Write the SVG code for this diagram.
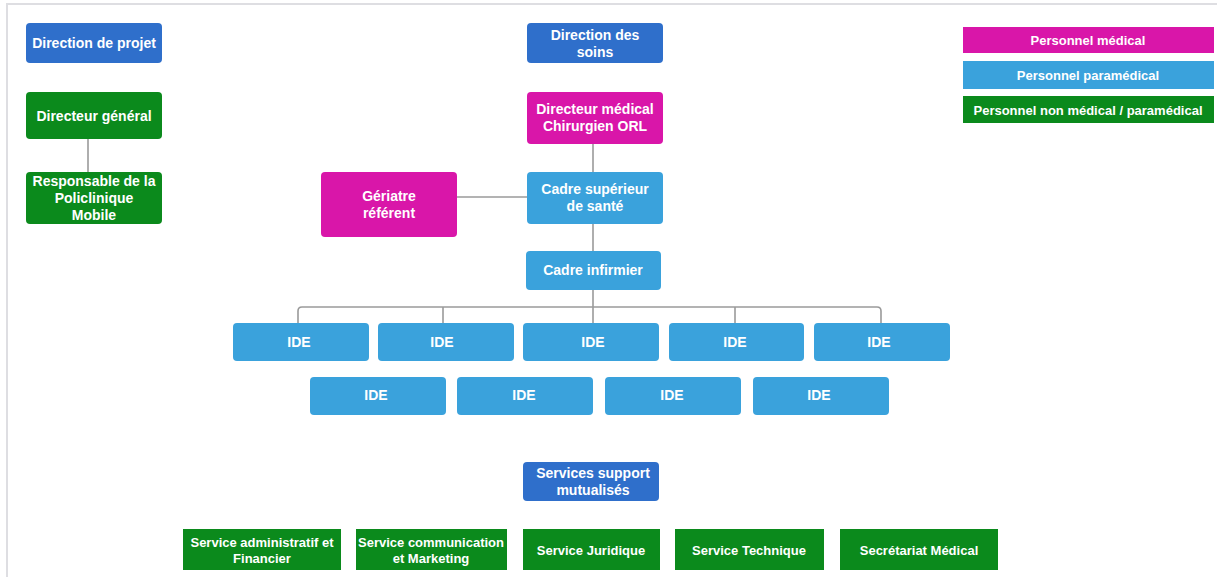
<svg xmlns="http://www.w3.org/2000/svg" width="1217" height="577" viewBox="0 0 1217 577">
<style>
text{font-family:"Liberation Sans",Arial,sans-serif;font-weight:bold;fill:#fff;text-anchor:middle;dominant-baseline:central}
.n{font-size:14px}
.s{font-size:13px}
.dir{fill:#2f6fcb}
.para{fill:#3aa2dc}
.med{fill:#d916a9}
.non{fill:#0b8a1c}
.c{fill:none;stroke:#9a9a9a;stroke-width:1.6}
</style>
<rect x="0" y="0" width="1217" height="577" fill="#fff"/>
<rect x="7" y="4" width="1215" height="580" fill="none" stroke="#dedee2" stroke-width="2"/>
<g id="connectors">
<path class="c" d="M88,139 V172"/>
<path class="c" d="M593,144 V172"/>
<path class="c" d="M457,197 H527"/>
<path class="c" d="M593,224 V251"/>
<path class="c" d="M593,290 V323"/>
<path class="c" d="M298,323 V311 Q298,307 302,307 H877 Q881,307 881,311 V323"/>
<path class="c" d="M443,307 V323"/>
<path class="c" d="M735,307 V323"/>
</g>
<g id="direction-projet"><rect class="dir" x="26" y="23" width="136" height="40" rx="4"/><text class="n" x="94" y="43">Direction de projet</text></g>
<g id="directeur-general"><rect class="non" x="26" y="92" width="136" height="47" rx="4"/><text class="n" x="94" y="116">Directeur général</text></g>
<g id="responsable"><rect class="non" x="26" y="172" width="136" height="52" rx="4"/><text class="n" x="94" y="181">Responsable de la</text><text class="n" x="94" y="198">Policlinique</text><text class="n" x="94" y="215">Mobile</text></g>
<g id="direction-soins"><rect class="dir" x="527" y="23" width="136" height="40" rx="4"/><text class="n" x="595" y="35">Direction des</text><text class="n" x="595" y="52">soins</text></g>
<g id="directeur-medical"><rect class="med" x="527" y="92" width="136" height="52" rx="4"/><text class="n" x="595" y="109">Directeur médical</text><text class="n" x="595" y="126">Chirurgien ORL</text></g>
<g id="geriatre"><rect class="med" x="321" y="172" width="136" height="65" rx="4"/><text class="n" x="389" y="196">Gériatre</text><text class="n" x="389" y="213">référent</text></g>
<g id="cadre-superieur"><rect class="para" x="527" y="172" width="136" height="52" rx="4"/><text class="n" x="595" y="189">Cadre supérieur</text><text class="n" x="595" y="206">de santé</text></g>
<g id="cadre-infirmier"><rect class="para" x="526" y="251" width="135" height="39" rx="4"/><text class="n" x="593" y="270">Cadre infirmier</text></g>
<g id="ide-1"><rect class="para" x="233" y="323" width="136" height="38" rx="4"/><text class="n" x="299" y="342">IDE</text></g>
<g id="ide-2"><rect class="para" x="378" y="323" width="136" height="38" rx="4"/><text class="n" x="442" y="342">IDE</text></g>
<g id="ide-3"><rect class="para" x="523" y="323" width="136" height="38" rx="4"/><text class="n" x="593" y="342">IDE</text></g>
<g id="ide-4"><rect class="para" x="669" y="323" width="135" height="38" rx="4"/><text class="n" x="735" y="342">IDE</text></g>
<g id="ide-5"><rect class="para" x="814" y="323" width="136" height="38" rx="4"/><text class="n" x="879" y="342">IDE</text></g>
<g id="ide-6"><rect class="para" x="310" y="377" width="136" height="38" rx="4"/><text class="n" x="376" y="395">IDE</text></g>
<g id="ide-7"><rect class="para" x="457" y="377" width="136" height="38" rx="4"/><text class="n" x="524" y="395">IDE</text></g>
<g id="ide-8"><rect class="para" x="605" y="377" width="136" height="38" rx="4"/><text class="n" x="672" y="395">IDE</text></g>
<g id="ide-9"><rect class="para" x="753" y="377" width="136" height="38" rx="4"/><text class="n" x="819" y="395">IDE</text></g>
<g id="services-support"><rect class="dir" x="523" y="462" width="136" height="39" rx="4"/><text class="n" x="593" y="473">Services support</text><text class="n" x="593" y="490">mutualisés</text></g>
<g id="service-admin"><rect class="non" x="183" y="529" width="158" height="41"/><text class="s" x="262" y="542">Service administratif et</text><text class="s" x="262" y="558">Financier</text></g>
<g id="service-comm"><rect class="non" x="356" y="529" width="151" height="41"/><text class="s" x="431" y="542">Service communication</text><text class="s" x="431" y="558">et Marketing</text></g>
<g id="service-juridique"><rect class="non" x="523" y="529" width="137" height="41"/><text class="s" x="591" y="550">Service Juridique</text></g>
<g id="service-technique"><rect class="non" x="675" y="529" width="149" height="41"/><text class="s" x="749" y="550">Service Technique</text></g>
<g id="secretariat"><rect class="non" x="840" y="529" width="158" height="41"/><text class="s" x="919" y="550">Secrétariat Médical</text></g>
<g id="legend">
<g id="legend-medical"><rect class="med" x="963" y="27" width="251" height="26"/><text class="s" x="1088" y="40">Personnel médical</text></g>
<g id="legend-paramedical"><rect class="para" x="963" y="61" width="251" height="28"/><text class="s" x="1088" y="75">Personnel paramédical</text></g>
<g id="legend-non"><rect class="non" x="963" y="96" width="251" height="27"/><text class="s" x="1088" y="110">Personnel non médical / paramédical</text></g>
</g>
</svg>
